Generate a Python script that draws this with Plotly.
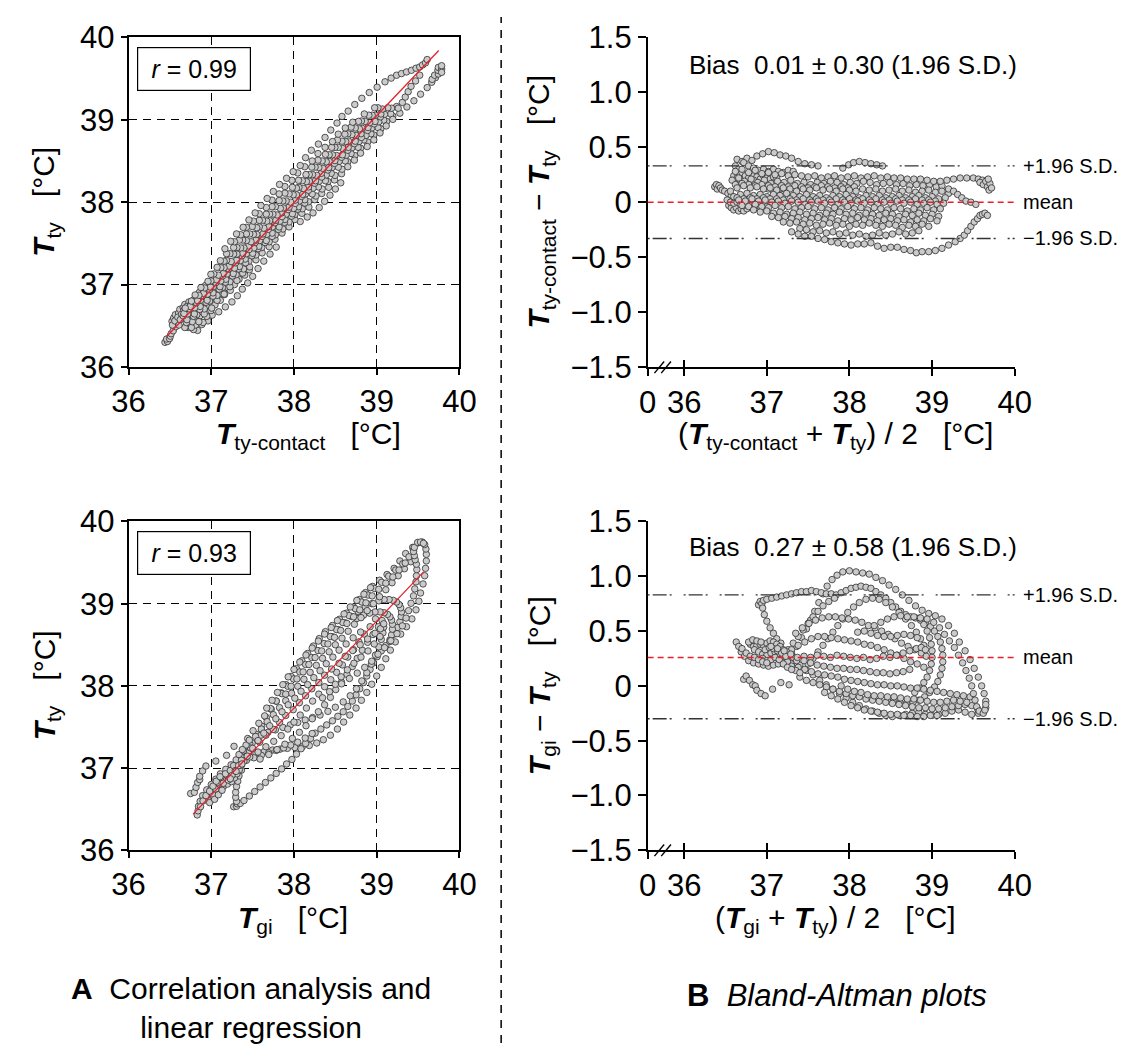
import plotly.graph_objects as go

# ---------------------------------------------------------------------------
# DATA  (Bland-Altman form: (mean of the two methods, difference))
# Top pair: T_ty-contact vs T_ty   (difference = T_ty-contact - T_ty)
# ---------------------------------------------------------------------------
top_clump = [(36.37, 0.14), (36.39, 0.16), (36.40, 0.12), (36.42, 0.15), (36.44, 0.13), (36.46, 0.11),
             (36.49, 0.10), (36.53, 0.08), (36.57, 0.06), (36.61, 0.04), (36.65, 0.03)]
top_lowleft = [(36.54, -0.03), (36.57, -0.05), (36.60, -0.07), (36.63, -0.05), (36.66, -0.08), (36.69, -0.06),
               (36.72, -0.08), (36.76, -0.06)]
top_left_extra = [(36.52, 0.02), (36.56, 0.00), (36.60, -0.01), (36.64, 0.00), (36.68, -0.02), (36.72, -0.03),
                  (36.76, -0.01), (36.80, -0.03), (36.84, -0.04), (36.88, -0.05), (36.92, -0.04), (36.96, -0.06),
                  (37.00, -0.04)]
top_left_up = [(36.60, 0.24), (36.64, 0.22), (36.68, 0.20), (36.72, 0.21), (36.76, 0.18), (36.80, 0.17),
               (36.84, 0.24), (36.88, 0.23), (36.92, 0.21), (36.96, 0.24), (37.00, 0.22), (37.04, 0.21),
               (37.08, 0.23), (37.12, 0.22)]
top_arc_left = [(36.64, 0.39), (36.70, 0.37), (36.76, 0.40), (36.82, 0.38), (36.88, 0.42), (36.95, 0.44),
                (37.02, 0.46), (37.09, 0.45), (37.16, 0.43), (37.23, 0.42), (37.30, 0.40), (37.38, 0.37),
                (37.46, 0.35), (37.54, 0.34), (37.62, 0.33)]
top_arc_mid = [(37.92, 0.31), (37.99, 0.34), (38.05, 0.36), (38.12, 0.37), (38.19, 0.36), (38.26, 0.35),
               (38.33, 0.34), (38.40, 0.33)]
top_diag_1 = [(36.62, 0.33), (36.66, 0.30), (36.70, 0.27), (36.74, 0.24), (36.78, 0.22), (36.84, 0.20),
              (36.90, 0.17), (36.96, 0.15), (37.02, 0.12), (37.08, 0.10), (37.14, 0.08), (37.20, 0.07)]
top_diag_2 = [(36.72, 0.36), (36.78, 0.33), (36.84, 0.31), (36.90, 0.29), (36.96, 0.30), (37.02, 0.28),
              (37.08, 0.30), (37.14, 0.28), (37.20, 0.27), (37.26, 0.29), (37.32, 0.28)]
top_row_a = [(36.62, 0.28), (36.70, 0.30), (36.78, 0.27), (36.86, 0.29), (36.94, 0.26), (37.02, 0.27),
             (37.10, 0.25), (37.18, 0.26), (37.26, 0.24), (37.34, 0.25), (37.42, 0.24), (37.50, 0.23),
             (37.58, 0.24), (37.66, 0.22), (37.74, 0.23), (37.82, 0.24), (37.90, 0.22), (37.98, 0.23),
             (38.06, 0.24), (38.14, 0.22), (38.22, 0.23), (38.30, 0.24), (38.38, 0.22), (38.46, 0.23)]
top_row_b = [(36.58, 0.20), (36.66, 0.22), (36.73, 0.19), (36.81, 0.21), (36.89, 0.18), (36.97, 0.20),
             (37.05, 0.17), (37.13, 0.19), (37.21, 0.18), (37.29, 0.20), (37.37, 0.17), (37.45, 0.18),
             (37.53, 0.16), (37.61, 0.18), (37.69, 0.17), (37.77, 0.19), (37.85, 0.18), (37.93, 0.16),
             (38.01, 0.18), (38.09, 0.17), (38.17, 0.19), (38.25, 0.18), (38.33, 0.16), (38.41, 0.17),
             (38.49, 0.18), (38.57, 0.16), (38.65, 0.17), (38.73, 0.15), (38.81, 0.16), (38.89, 0.15),
             (38.97, 0.16), (39.05, 0.14), (39.12, 0.15)]
top_row_b2 = [(36.62, 0.16), (36.70, 0.17), (36.78, 0.16), (36.86, 0.15), (36.94, 0.16), (37.02, 0.15),
              (37.10, 0.14), (37.18, 0.15), (37.26, 0.14), (37.34, 0.15), (37.42, 0.14), (37.50, 0.13),
              (37.58, 0.14), (37.66, 0.15), (37.74, 0.14), (37.82, 0.13), (37.90, 0.14), (37.98, 0.13),
              (38.06, 0.14)]
top_row_c = [(36.56, 0.10), (36.64, 0.13), (36.72, 0.15), (36.80, 0.13), (36.88, 0.14), (36.96, 0.12),
             (37.04, 0.13), (37.12, 0.11), (37.20, 0.13), (37.28, 0.12), (37.36, 0.10), (37.44, 0.12),
             (37.52, 0.11), (37.60, 0.13), (37.68, 0.11), (37.76, 0.12), (37.84, 0.10), (37.92, 0.12),
             (38.00, 0.11), (38.08, 0.10), (38.16, 0.12), (38.24, 0.11), (38.32, 0.12), (38.40, 0.10),
             (38.48, 0.11), (38.56, 0.12), (38.64, 0.10), (38.72, 0.11), (38.80, 0.09), (38.88, 0.10),
             (38.96, 0.11), (39.04, 0.09), (39.12, 0.10), (39.20, 0.08)]
top_row_d = [(36.60, 0.05), (36.68, 0.07), (36.76, 0.08), (36.84, 0.06), (36.92, 0.07), (37.00, 0.05),
             (37.08, 0.07), (37.16, 0.06), (37.24, 0.08), (37.32, 0.06), (37.40, 0.05), (37.48, 0.07),
             (37.56, 0.05), (37.64, 0.06), (37.72, 0.04), (37.80, 0.06), (37.88, 0.05), (37.96, 0.07),
             (38.04, 0.05), (38.12, 0.04), (38.20, 0.06), (38.28, 0.05), (38.36, 0.06), (38.44, 0.04),
             (38.52, 0.05), (38.60, 0.06), (38.68, 0.04), (38.76, 0.05), (38.84, 0.06), (38.92, 0.04),
             (39.00, 0.05), (39.08, 0.03), (39.16, 0.04)]
top_row_d2 = [(36.64, 0.04), (36.72, 0.03), (36.80, 0.04), (36.88, 0.03), (36.96, 0.04), (37.04, 0.03),
              (37.12, 0.03), (37.20, 0.02), (37.28, 0.03), (37.36, 0.02), (37.44, 0.03), (37.52, 0.02),
              (37.60, 0.03), (37.68, 0.02), (37.76, 0.02), (37.84, 0.03), (37.92, 0.02), (38.00, 0.03),
              (38.08, 0.02), (38.16, 0.03), (38.24, 0.02), (38.32, 0.03), (38.40, 0.02), (38.48, 0.02),
              (38.56, 0.03), (38.64, 0.02), (38.72, 0.02), (38.80, 0.03), (38.88, 0.02), (38.96, 0.02),
              (39.04, 0.01)]
top_row_e = [(36.66, 0.02), (36.74, 0.01), (36.82, 0.03), (36.90, 0.01), (36.98, 0.02), (37.06, 0.00),
             (37.14, 0.01), (37.22, -0.01), (37.30, 0.01), (37.38, 0.00), (37.46, -0.02), (37.54, 0.00),
             (37.62, 0.01), (37.70, -0.01), (37.78, 0.00), (37.86, -0.02), (37.94, 0.00), (38.02, -0.01),
             (38.10, 0.01), (38.18, -0.01), (38.26, 0.00), (38.34, -0.02), (38.42, 0.00), (38.50, -0.01),
             (38.58, 0.01), (38.66, -0.01), (38.74, 0.00), (38.82, -0.02), (38.90, -0.01), (38.98, 0.00),
             (39.06, -0.02), (39.14, -0.01)]
top_row_f = [(36.70, -0.03), (36.78, -0.04), (36.86, -0.02), (36.94, -0.04), (37.02, -0.05), (37.10, -0.03),
             (37.18, -0.05), (37.26, -0.04), (37.34, -0.06), (37.42, -0.05), (37.50, -0.04), (37.58, -0.06),
             (37.66, -0.05), (37.74, -0.07), (37.82, -0.05), (37.90, -0.06), (37.98, -0.04), (38.06, -0.06),
             (38.14, -0.05), (38.22, -0.07), (38.30, -0.05), (38.38, -0.06), (38.46, -0.07), (38.54, -0.05),
             (38.62, -0.06), (38.70, -0.08), (38.78, -0.06), (38.86, -0.07), (38.94, -0.05), (39.02, -0.07),
             (39.10, -0.06)]
top_row_g = [(36.84, -0.07), (36.92, -0.09), (37.00, -0.08), (37.08, -0.10), (37.16, -0.09), (37.24, -0.11),
             (37.32, -0.10), (37.40, -0.09), (37.48, -0.11), (37.56, -0.10), (37.64, -0.12), (37.72, -0.10),
             (37.80, -0.11), (37.88, -0.09), (37.96, -0.11), (38.04, -0.10), (38.12, -0.12), (38.20, -0.10),
             (38.28, -0.11), (38.36, -0.12), (38.44, -0.10), (38.52, -0.11), (38.60, -0.13), (38.68, -0.11),
             (38.76, -0.12), (38.84, -0.10), (38.92, -0.12), (39.00, -0.11), (39.08, -0.13)]
top_row_h = [(37.06, -0.13), (37.14, -0.14), (37.22, -0.13), (37.30, -0.15), (37.38, -0.14), (37.46, -0.16),
             (37.54, -0.15), (37.62, -0.14), (37.70, -0.16), (37.78, -0.15), (37.86, -0.17), (37.94, -0.15),
             (38.02, -0.16), (38.10, -0.14), (38.18, -0.16), (38.26, -0.15), (38.34, -0.17), (38.42, -0.16),
             (38.50, -0.15), (38.58, -0.17), (38.66, -0.16), (38.74, -0.18), (38.82, -0.16), (38.90, -0.17),
             (38.98, -0.15), (39.06, -0.17)]
top_row_i = [(37.20, -0.18), (37.28, -0.19), (37.36, -0.18), (37.44, -0.20), (37.52, -0.19), (37.60, -0.21),
             (37.68, -0.20), (37.76, -0.19), (37.84, -0.21), (37.92, -0.20), (38.00, -0.22), (38.08, -0.20),
             (38.16, -0.21), (38.24, -0.19), (38.32, -0.21), (38.40, -0.22), (38.48, -0.20), (38.56, -0.21),
             (38.64, -0.23), (38.72, -0.21), (38.80, -0.22), (38.88, -0.20), (38.96, -0.22)]
top_row_j = [(37.40, -0.24), (37.48, -0.25), (37.56, -0.27), (37.64, -0.26), (37.72, -0.28), (37.80, -0.27),
             (37.88, -0.29), (37.96, -0.28), (38.04, -0.30), (38.12, -0.29), (38.20, -0.31), (38.28, -0.30),
             (38.36, -0.28), (38.44, -0.30), (38.52, -0.29), (38.60, -0.27), (38.68, -0.29), (38.76, -0.28),
             (38.84, -0.26)]
top_upper_right = [(38.54, 0.22), (38.62, 0.22), (38.70, 0.21), (38.78, 0.21), (38.86, 0.21), (38.94, 0.20),
                   (39.02, 0.19), (39.10, 0.19), (39.18, 0.20), (39.26, 0.21), (39.34, 0.22), (39.42, 0.22),
                   (39.50, 0.22), (39.56, 0.21), (39.61, 0.20)]
top_right_cluster = [(39.58, 0.18), (39.62, 0.16), (39.65, 0.19), (39.67, 0.14), (39.69, 0.11), (39.70, 0.17),
                     (39.72, 0.13), (39.68, 0.21)]
top_right_curve = [(39.20, 0.12), (39.26, 0.10), (39.31, 0.07), (39.36, 0.04), (39.41, 0.01), (39.47, 0.00),
                   (39.53, -0.02)]
top_low_outliers = [(37.30, -0.27), (37.38, -0.29), (37.46, -0.31), (37.54, -0.31), (37.62, -0.33),
                    (37.70, -0.34), (37.78, -0.36), (37.86, -0.37), (37.94, -0.38), (38.02, -0.39),
                    (38.10, -0.38), (38.18, -0.38), (38.26, -0.37), (38.34, -0.40), (38.42, -0.42), (38.50, -0.41)]
top_low_trail = [(38.58, -0.41), (38.66, -0.43), (38.74, -0.44), (38.81, -0.46), (38.88, -0.45), (38.96, -0.45),
                 (39.04, -0.44), (39.12, -0.42), (39.20, -0.39), (39.28, -0.36), (39.34, -0.33), (39.39, -0.30),
                 (39.43, -0.26), (39.47, -0.22), (39.51, -0.18), (39.55, -0.15), (39.58, -0.12), (39.61, -0.11),
                 (39.64, -0.10), (39.67, -0.12)]

# Bottom pair: T_gi vs T_ty   (difference = T_gi - T_ty)
bot_outer = [(37.30, 0.30), (37.36, 0.36), (37.42, 0.44), (37.48, 0.52), (37.53, 0.60), (37.58, 0.68),
             (37.63, 0.76), (37.68, 0.84), (37.73, 0.91), (37.79, 0.97), (37.85, 1.01), (37.92, 1.04),
             (38.00, 1.05), (38.08, 1.04), (38.16, 1.03), (38.24, 1.02), (38.32, 0.99), (38.40, 0.96),
             (38.48, 0.92), (38.56, 0.88), (38.64, 0.83), (38.72, 0.78), (38.80, 0.73), (38.88, 0.69),
             (38.96, 0.66), (39.04, 0.64), (39.12, 0.61), (39.20, 0.55), (39.27, 0.48), (39.33, 0.40),
             (39.40, 0.32), (39.46, 0.24), (39.51, 0.16), (39.56, 0.08), (39.60, 0.00), (39.63, -0.07),
             (39.65, -0.14), (39.65, -0.20), (39.62, -0.24), (39.56, -0.25), (39.48, -0.26), (39.40, -0.24),
             (39.32, -0.22), (39.24, -0.23), (39.16, -0.25), (39.08, -0.26), (39.00, -0.27), (38.92, -0.26),
             (38.84, -0.24), (38.76, -0.25), (38.68, -0.26), (38.60, -0.27), (38.52, -0.28), (38.44, -0.27),
             (38.36, -0.25), (38.28, -0.23), (38.20, -0.21), (38.12, -0.18), (38.04, -0.15), (37.96, -0.11),
             (37.88, -0.07), (37.80, -0.03), (37.72, 0.01), (37.64, 0.05), (37.56, 0.10), (37.48, 0.14),
             (37.40, 0.19)]
bot_second = [(36.90, 0.74), (36.92, 0.77), (36.94, 0.75), (36.96, 0.78), (37.00, 0.79), (37.06, 0.80),
              (37.12, 0.81), (37.18, 0.82), (37.24, 0.83), (37.30, 0.84), (37.36, 0.85), (37.42, 0.86),
              (37.48, 0.86), (37.54, 0.87), (37.60, 0.86), (37.66, 0.85), (37.72, 0.84), (37.78, 0.84),
              (37.84, 0.83), (37.90, 0.85), (37.96, 0.87), (38.02, 0.89), (38.08, 0.90), (38.14, 0.91),
              (38.20, 0.90), (38.26, 0.89), (38.32, 0.86), (38.38, 0.83), (38.44, 0.80), (38.50, 0.76),
              (38.56, 0.72), (38.62, 0.68), (38.68, 0.65), (38.74, 0.63), (38.80, 0.62), (38.86, 0.60),
              (38.92, 0.58), (38.98, 0.54), (39.03, 0.50), (39.07, 0.45), (39.10, 0.40), (39.12, 0.34),
              (39.13, 0.28), (39.13, 0.22), (39.12, 0.16), (39.10, 0.10), (39.07, 0.04), (39.03, -0.01),
              (38.97, -0.06), (38.91, -0.10), (38.84, -0.13), (38.77, -0.15), (38.69, -0.16), (38.61, -0.15),
              (38.53, -0.14)]
bot_knot_down = [(36.95, 0.71), (36.97, 0.65), (37.00, 0.59), (37.04, 0.53), (37.08, 0.48), (37.12, 0.43),
                 (37.17, 0.39)]
bot_rise_1 = [(37.20, 0.28), (37.26, 0.33), (37.32, 0.39), (37.38, 0.45), (37.44, 0.51), (37.50, 0.57),
              (37.56, 0.63), (37.62, 0.68), (37.68, 0.73), (37.75, 0.77), (37.82, 0.80)]
bot_rise_2 = [(37.50, 0.20), (37.56, 0.25), (37.62, 0.31), (37.68, 0.37), (37.74, 0.43), (37.80, 0.49),
              (37.86, 0.55), (37.92, 0.61), (37.98, 0.67), (38.05, 0.72), (38.12, 0.76), (38.20, 0.79),
              (38.28, 0.80), (38.36, 0.79), (38.44, 0.76), (38.52, 0.72), (38.60, 0.67), (38.68, 0.61),
              (38.75, 0.55), (38.81, 0.49), (38.86, 0.43), (38.90, 0.37)]
bot_vert = [(38.85, 0.62), (38.90, 0.56), (38.94, 0.50), (38.97, 0.44), (38.99, 0.38), (39.00, 0.32),
            (39.00, 0.26), (38.99, 0.20), (38.97, 0.14), (38.94, 0.08), (38.90, 0.03), (38.85, -0.02),
            (38.79, -0.06)]
bot_mid_a = [(37.35, 0.48), (37.43, 0.53), (37.51, 0.57), (37.59, 0.60), (37.67, 0.62), (37.75, 0.63),
             (37.83, 0.63), (37.91, 0.62), (37.99, 0.61), (38.07, 0.60), (38.15, 0.58), (38.23, 0.55),
             (38.31, 0.53), (38.39, 0.50), (38.47, 0.47), (38.55, 0.43), (38.63, 0.39), (38.71, 0.36),
             (38.79, 0.33), (38.87, 0.30), (38.93, 0.27)]
bot_mid_b = [(37.30, 0.33), (37.38, 0.37), (37.46, 0.40), (37.54, 0.43), (37.62, 0.45), (37.70, 0.45),
             (37.78, 0.44), (37.86, 0.43), (37.94, 0.42), (38.02, 0.41), (38.10, 0.40), (38.18, 0.38),
             (38.26, 0.37), (38.34, 0.35), (38.42, 0.33), (38.50, 0.30), (38.58, 0.28), (38.66, 0.25),
             (38.74, 0.22), (38.82, 0.20), (38.90, 0.17)]
bot_mid_c = [(37.45, 0.27), (37.53, 0.26), (37.61, 0.28), (37.69, 0.27), (37.77, 0.26), (37.85, 0.28),
             (37.93, 0.27), (38.01, 0.26), (38.09, 0.25), (38.17, 0.26), (38.25, 0.24), (38.33, 0.25),
             (38.41, 0.27), (38.49, 0.26), (38.57, 0.28), (38.65, 0.30), (38.73, 0.32), (38.81, 0.34),
             (38.87, 0.35), (38.92, 0.33)]
bot_mid_d = [(38.10, 0.49), (38.18, 0.50), (38.26, 0.48), (38.34, 0.46), (38.42, 0.45), (38.50, 0.45),
             (38.58, 0.46), (38.66, 0.47), (38.74, 0.46), (38.82, 0.44)]
bot_low_a = [(37.30, 0.20), (37.38, 0.17), (37.46, 0.15), (37.54, 0.13), (37.62, 0.11), (37.70, 0.10),
             (37.78, 0.09), (37.86, 0.08), (37.94, 0.06), (38.02, 0.05), (38.10, 0.04), (38.18, 0.03),
             (38.26, 0.02), (38.34, 0.01), (38.42, 0.01), (38.50, 0.00), (38.58, 0.00), (38.66, -0.01),
             (38.74, -0.02), (38.82, -0.02), (38.90, -0.03), (38.98, -0.04), (39.06, -0.05), (39.14, -0.06),
             (39.22, -0.07), (39.30, -0.08), (39.38, -0.09), (39.46, -0.10)]
bot_low_b = [(37.40, 0.08), (37.48, 0.05), (37.56, 0.03), (37.64, 0.01), (37.72, -0.01), (37.80, -0.03),
             (37.88, -0.05), (37.96, -0.07), (38.04, -0.09), (38.12, -0.10), (38.20, -0.12), (38.28, -0.13),
             (38.36, -0.14), (38.44, -0.15), (38.52, -0.16), (38.60, -0.17), (38.68, -0.18), (38.76, -0.19),
             (38.84, -0.20), (38.92, -0.20), (39.00, -0.21), (39.08, -0.21), (39.16, -0.20), (39.24, -0.19),
             (39.32, -0.18), (39.40, -0.17), (39.48, -0.18), (39.55, -0.21)]
bot_low_c = [(37.70, -0.06), (37.78, -0.09), (37.86, -0.12), (37.94, -0.15), (38.02, -0.18), (38.10, -0.20),
             (38.18, -0.22), (38.26, -0.23), (38.34, -0.24), (38.42, -0.25), (38.50, -0.26), (38.58, -0.26),
             (38.66, -0.27), (38.74, -0.27), (38.82, -0.28), (38.90, -0.28), (38.98, -0.27), (39.06, -0.27)]
bot_low_d = [(37.90, 0.00), (37.98, -0.03), (38.06, -0.05), (38.14, -0.06), (38.22, -0.08), (38.30, -0.09),
             (38.38, -0.09), (38.46, -0.10), (38.54, -0.10), (38.62, -0.11), (38.70, -0.12), (38.78, -0.12),
             (38.86, -0.13), (38.94, -0.14), (39.02, -0.15), (39.10, -0.15), (39.18, -0.14), (39.26, -0.13),
             (39.34, -0.14), (39.42, -0.15)]
bot_right_loop = [(38.30, 0.55), (38.38, 0.58), (38.46, 0.61), (38.54, 0.63), (38.62, 0.64), (38.70, 0.63),
                  (38.78, 0.63), (38.86, 0.62), (38.94, 0.61), (39.02, 0.58), (39.09, 0.53), (39.15, 0.47),
                  (39.21, 0.41), (39.27, 0.35), (39.32, 0.28), (39.37, 0.21), (39.41, 0.14), (39.45, 0.07),
                  (39.48, 0.00), (39.50, -0.07), (39.52, -0.13), (39.54, -0.19), (39.57, -0.23), (39.62, -0.25),
                  (39.64, -0.22), (39.65, -0.17)]
bot_left_1 = [(36.63, 0.40), (36.66, 0.36), (36.69, 0.31), (36.73, 0.27), (36.78, 0.23), (36.84, 0.21),
              (36.90, 0.20), (36.96, 0.19), (37.02, 0.18), (37.08, 0.19), (37.14, 0.20), (37.20, 0.22),
              (37.26, 0.25)]
bot_left_2 = [(36.80, 0.38), (36.84, 0.36), (36.88, 0.37), (36.92, 0.38), (36.96, 0.37), (37.00, 0.39),
              (37.04, 0.41), (37.08, 0.40), (37.12, 0.38), (37.16, 0.36), (37.20, 0.33), (37.24, 0.31),
              (37.28, 0.28), (37.32, 0.26), (37.36, 0.23)]
bot_left_3 = [(36.85, 0.33), (36.90, 0.31), (36.95, 0.29), (37.00, 0.28), (37.05, 0.30), (37.10, 0.31),
              (37.15, 0.29), (37.20, 0.27), (37.25, 0.22), (37.30, 0.18), (37.35, 0.14), (37.40, 0.12)]
bot_left_4 = [(36.95, 0.25), (37.00, 0.23), (37.05, 0.24), (37.10, 0.26), (37.15, 0.24), (37.20, 0.20),
              (37.25, 0.17), (37.30, 0.15), (36.98, 0.33), (37.03, 0.35), (37.08, 0.34), (37.13, 0.32),
              (37.18, 0.30), (37.23, 0.27)]
bot_left_5 = [(36.70, 0.34), (36.75, 0.30), (36.80, 0.27), (36.85, 0.26), (36.90, 0.24), (36.95, 0.22),
              (37.00, 0.21), (36.78, 0.40), (36.83, 0.42), (36.88, 0.41), (36.93, 0.40)]
bot_left_scatter = [(36.72, 0.06), (36.75, 0.09), (36.79, 0.05), (36.83, 0.01), (36.86, 0.00), (36.88, -0.04),
                    (36.93, -0.07), (36.98, -0.09), (37.07, -0.03), (37.17, 0.03), (37.27, 0.01)]
bot_cross = [(37.05, 0.36), (37.13, 0.34), (37.21, 0.32), (37.29, 0.29), (37.37, 0.26), (37.45, 0.23),
             (37.53, 0.21), (37.61, 0.19), (37.69, 0.18), (37.77, 0.17), (37.85, 0.16), (37.93, 0.16),
             (38.01, 0.15), (38.09, 0.15), (38.17, 0.14), (38.25, 0.13), (38.33, 0.12), (38.41, 0.12),
             (38.49, 0.11), (38.57, 0.12), (38.65, 0.13), (38.73, 0.15)]

# Regression lines (end points)
reg_top_x = [36.46, 39.75]
reg_top_y = [36.37, 39.84]
reg_bot_x = [36.78, 39.57]
reg_bot_y = [36.44, 39.39]

# Bland-Altman reference lines: bias and +/-1.96 S.D. limits
top_bias, top_upper, top_lower = 0.0, 0.33, -0.33
bot_bias, bot_upper, bot_lower = 0.26, 0.83, -0.30

corr_ticks = [36, 37, 38, 39, 40]
ba_x_break = 35.558
ba_x_tickvals = [ba_x_break, 36, 37, 38, 39, 40]
ba_x_ticktext = ["0", "36", "37", "38", "39", "40"]
ba_y_tickvals = [1.5, 1.0, 0.5, 0, -0.5, -1.0, -1.5]
ba_y_ticktext = ["1.5", "1.0", "0.5", "0", "\u22120.5", "\u22121.0", "\u22121.5"]

top_tracks = [top_clump, top_lowleft, top_left_extra, top_left_up, top_arc_left, top_arc_mid, top_diag_1,
              top_diag_2, top_row_a, top_row_b, top_row_b2, top_row_c, top_row_d, top_row_d2, top_row_e,
              top_row_f, top_row_g, top_row_h, top_row_i, top_row_j, top_upper_right, top_right_cluster,
              top_right_curve, top_low_outliers, top_low_trail]
bot_tracks = [bot_outer, bot_second, bot_knot_down, bot_rise_1, bot_rise_2, bot_vert, bot_mid_a, bot_mid_b,
              bot_mid_c, bot_mid_d, bot_low_a, bot_low_b, bot_low_c, bot_low_d, bot_right_loop, bot_left_1,
              bot_left_2, bot_left_3, bot_left_4, bot_left_5, bot_left_scatter, bot_cross]


def unpack(tracks):
    m = [p[0] for t in tracks for p in t]
    d = [p[1] for t in tracks for p in t]
    return m, d


top_mean, top_diff = unpack(top_tracks)
bot_mean, bot_diff = unpack(bot_tracks)
# back to the two measurements: a = mean + diff/2, b = mean - diff/2
top_contact = [m + d / 2 for m, d in zip(top_mean, top_diff)]
top_ty = [m - d / 2 for m, d in zip(top_mean, top_diff)]
bot_gi = [m + d / 2 for m, d in zip(bot_mean, bot_diff)]
bot_ty = [m - d / 2 for m, d in zip(bot_mean, bot_diff)]

# ---------------------------------------------------------------------------
W, H = 1142, 1061
FONT = "Liberation Sans, Arial, Helvetica, sans-serif"


def px(x):
    return x / W


def py(y):
    return 1 - y / H


marker = dict(size=6.5, color="#cbcbcb", line=dict(color="#2e2e2e", width=0.8))
RED = "#e8202a"

fig = go.Figure()
fig.add_trace(go.Scatter(x=top_contact, y=top_ty, mode="markers", marker=marker, xaxis="x", yaxis="y"))
fig.add_trace(go.Scatter(x=reg_top_x, y=reg_top_y, mode="lines", line=dict(color=RED, width=1.3),
                         xaxis="x", yaxis="y"))
fig.add_trace(go.Scatter(x=bot_gi, y=bot_ty, mode="markers", marker=marker, xaxis="x2", yaxis="y2"))
fig.add_trace(go.Scatter(x=reg_bot_x, y=reg_bot_y, mode="lines", line=dict(color=RED, width=1.3),
                         xaxis="x2", yaxis="y2"))
fig.add_trace(go.Scatter(x=top_mean, y=top_diff, mode="markers", marker=marker, xaxis="x3", yaxis="y3"))
fig.add_trace(go.Scatter(x=bot_mean, y=bot_diff, mode="markers", marker=marker, xaxis="x4", yaxis="y4"))
# empty traces so the overlay axes (inner tick halves) are drawn
fig.add_trace(go.Scatter(x=[None], y=[None], xaxis="x5", yaxis="y3", hoverinfo="skip"))
fig.add_trace(go.Scatter(x=[None], y=[None], xaxis="x6", yaxis="y4", hoverinfo="skip"))

dom_ax = [px(115), px(456)]
dom_bx = [px(650), px(1028.3)]
dom_top = [py(362), py(21)]
dom_bot = [py(861.7), py(521.7)]

corr_axis = dict(range=[36, 40], tickvals=corr_ticks, showline=True, mirror=True, linecolor="black",
                 linewidth=1.6, ticks="outside", ticklen=6, tickwidth=1.5, tickcolor="black",
                 showgrid=True, gridcolor="black", gridwidth=1, griddash="8px,6px", zeroline=False,
                 tickfont=dict(size=31, color="black", family=FONT), fixedrange=True)
ba_x_axis = dict(range=[ba_x_break, 40], tickvals=ba_x_tickvals, ticktext=ba_x_ticktext, showline=True,
                 linecolor="black", linewidth=1.6, ticks="outside", ticklen=7, tickwidth=1.5,
                 tickcolor="black", showgrid=False, zeroline=False,
                 tickfont=dict(size=31, color="black", family=FONT))
ba_x_inner = dict(range=[ba_x_break, 40], tickvals=ba_x_tickvals, showticklabels=False, showline=False,
                  ticks="inside", ticklen=7, tickwidth=1.5, tickcolor="black", showgrid=False, zeroline=False)
ba_y_axis = dict(range=[-1.5, 1.5], tickvals=ba_y_tickvals, ticktext=ba_y_ticktext, showline=True,
                 linecolor="black", linewidth=1.6, ticks="outside", ticklen=8, tickwidth=1.5,
                 tickcolor="black", showgrid=False, zeroline=False,
                 tickfont=dict(size=31, color="black", family=FONT))

fig.update_layout(
    width=W, height=H, autosize=False, margin=dict(l=0, r=0, t=0, b=0),
    paper_bgcolor="white", plot_bgcolor="white", showlegend=False,
    font=dict(family=FONT, color="black"),
    xaxis=dict(domain=dom_ax, anchor="y", **corr_axis),
    yaxis=dict(domain=dom_top, anchor="x", **corr_axis),
    xaxis2=dict(domain=dom_ax, anchor="y2", **corr_axis),
    yaxis2=dict(domain=dom_bot, anchor="x2", **corr_axis),
    xaxis3=dict(domain=dom_bx, anchor="y3", **ba_x_axis),
    yaxis3=dict(domain=dom_top, anchor="x3", **ba_y_axis),
    xaxis4=dict(domain=dom_bx, anchor="y4", **ba_x_axis),
    yaxis4=dict(domain=dom_bot, anchor="x4", **ba_y_axis),
    xaxis5=dict(domain=dom_bx, anchor="y3", overlaying="x3", **ba_x_inner),
    xaxis6=dict(domain=dom_bx, anchor="y4", overlaying="x4", **ba_x_inner),
)

shapes = []
SDDASH = "2px,3px,14px,3px,2px,12px"
for xr, yr, bias, up, lo in [("x3", "y3", top_bias, top_upper, top_lower),
                             ("x4", "y4", bot_bias, bot_upper, bot_lower)]:
    for v in (up, lo):
        shapes.append(dict(type="line", xref=xr + " domain", yref=yr, x0=0, x1=1, y0=v, y1=v,
                           line=dict(color="#333333", width=1.4, dash=SDDASH), layer="above"))
    shapes.append(dict(type="line", xref=xr + " domain", yref=yr, x0=0, x1=1, y0=bias, y1=bias,
                       line=dict(color=RED, width=1.5, dash="6px,4px"), layer="above"))
# axis-break marks on the Bland-Altman x axes
for yax in (362.3, 861.7):
    for x0 in (657, 664):
        shapes.append(dict(type="line", xref="paper", yref="paper", x0=px(x0), x1=px(x0 + 10),
                           y0=py(yax + 6), y1=py(yax - 6), line=dict(color="black", width=1.4)))
# vertical dashed separator
shapes.append(dict(type="line", xref="paper", yref="paper", x0=px(499), x1=px(499), y0=0, y1=1,
                   line=dict(color="black", width=1.5, dash="8px,7px")))
fig.update_layout(shapes=shapes)

T = "<b><i>T</i></b>"
SP = "\u00a0\u00a0\u00a0"
ann = []


def text(x, y, s, size, angle=0, **kw):
    d = dict(xref="paper", yref="paper", x=px(x), y=py(y), text=s, showarrow=False, textangle=angle,
             font=dict(size=size, family=FONT, color="black"), xanchor="center", yanchor="middle")
    d.update(kw)
    ann.append(d)


# axis titles
text(300, 433, f"{T}<sub>ty-contact</sub>{SP}[°C]", 30)
text(284, 933, f"{T}<sub>gi</sub>{SP}[°C]", 30)
text(30, 191, f"{T}<sub>ty</sub>{SP}[°C]", 30, angle=-90)
text(30, 691, f"{T}<sub>ty</sub>{SP}[°C]", 30, angle=-90)
text(540, 191, f"{T}<sub>ty-contact</sub> \u2212 {T}<sub>ty</sub>{SP}[°C]", 30, angle=-90)
text(540, 691, f"{T}<sub>gi</sub> \u2212 {T}<sub>ty</sub>{SP}[°C]", 30, angle=-90)
text(844, 433, f"({T}<sub>ty-contact</sub> + {T}<sub>ty</sub>) / 2{SP}[°C]", 30)
text(844, 933, f"({T}<sub>gi</sub> + {T}<sub>ty</sub>) / 2{SP}[°C]", 30)
# correlation boxes
for yc, r in ((54, "0.99"), (554, "0.93")):
    text(182.5, yc, f"<i>r</i> = {r}", 25, width=112, height=42, bordercolor="black", borderwidth=1.2,
         bgcolor="white", borderpad=0)
# bias texts
text(862, 50, "Bias\u00a0\u00a00.01 ± 0.30 (1.96 S.D.)", 26)
text(862, 548, "Bias\u00a0\u00a00.27 ± 0.58 (1.96 S.D.)", 26)
# limit labels
for xr, yr, bias, up, lo in [("x3", "y3", top_bias, top_upper, top_lower),
                             ("x4", "y4", bot_bias, bot_upper, bot_lower)]:
    for v, lab in ((up, "+1.96 S.D."), (bias, "mean"), (lo, "\u22121.96 S.D.")):
        ann.append(dict(xref=xr + " domain", yref=yr, x=1, y=v, text=lab, showarrow=False, xanchor="left",
                        yanchor="middle", xshift=6, font=dict(size=20, family=FONT, color="black")))
# panel captions
text(241, 1025, "<b>A</b>\u00a0 Correlation analysis and<br>linear regression", 30)
text(845, 1012, "<b>B</b>\u00a0 <i>Bland-Altman plots</i>", 31)

fig.update_layout(annotations=ann)
fig.write_html("out.html", post_script="document.body.style.margin='0';")
